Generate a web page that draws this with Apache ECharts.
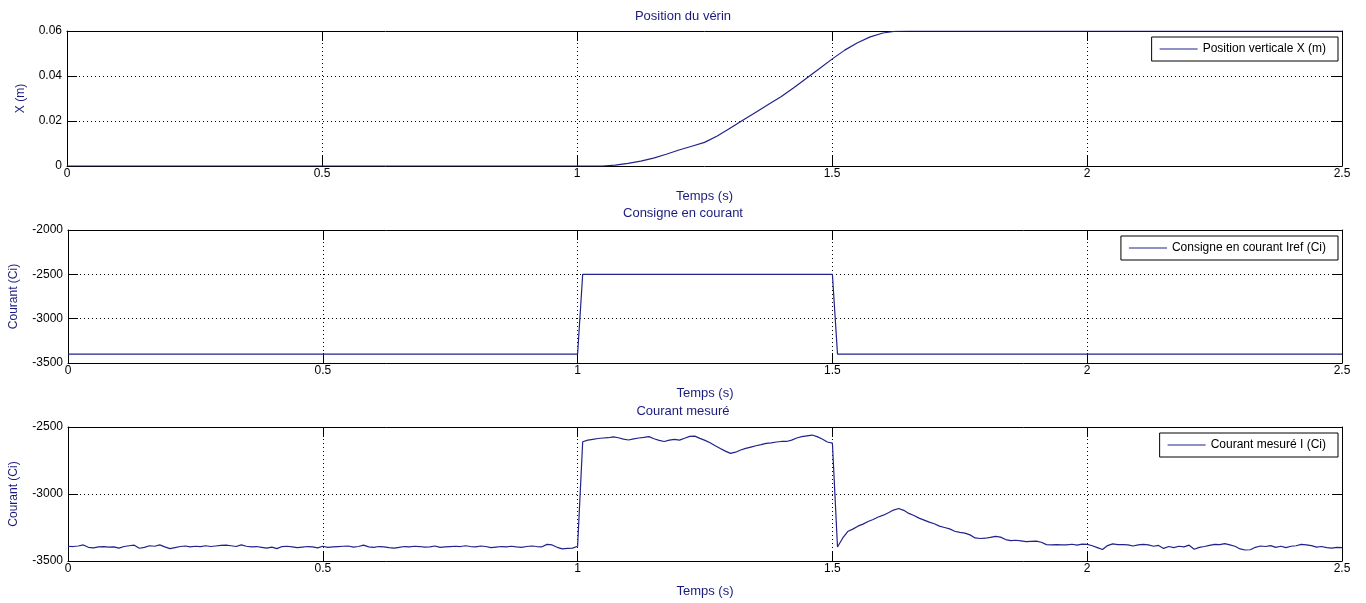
<!DOCTYPE html>
<html><head><meta charset="utf-8">
<script src="https://cdn.jsdelivr.net/npm/echarts@6/dist/echarts.min.js"></script>
<style>html,body{margin:0;padding:0;background:#fff;}#c{width:1366px;height:603px;}</style>
</head><body><div id="c"></div>
<script>
// ---- Data ----
const xTicks = [0, 0.5, 1, 1.5, 2, 2.5];
const titles = ['Position du vérin', 'Consigne en courant', 'Courant mesuré'];
const seriesNames = ['Position verticale X (m)', 'Consigne en courant Iref (Ci)', 'Courant mesuré I (Ci)'];

const posTime = [0, 1.05, 1.075, 1.10, 1.125, 1.15, 1.175, 1.20, 1.225, 1.25, 1.275, 1.30, 1.325, 1.35, 1.375, 1.40, 1.425, 1.45, 1.475, 1.50, 1.525, 1.55, 1.575, 1.60, 1.625, 1.65, 2.5];
const posValue = [0, 0, 0.0004, 0.0012, 0.0022, 0.0035, 0.0052, 0.0071, 0.0088, 0.0105, 0.0133, 0.0168, 0.0203, 0.0238, 0.0273, 0.0308, 0.0348, 0.0390, 0.0432, 0.0475, 0.0515, 0.0548, 0.0574, 0.0591, 0.0599, 0.0600, 0.0600];

const refTime = [0, 1.0, 1.01, 1.5, 1.51, 2.5];
const refValue = [-3400, -3400, -2500, -2500, -3400, -3400];

const measStep = 0.01;
const measValue = [
-3390,-3392,-3388,-3380,-3398,-3402,-3395,-3393,-3396,-3394,
-3404,-3392,-3386,-3382,-3405,-3398,-3386,-3390,-3380,-3395,
-3408,-3400,-3392,-3388,-3395,-3390,-3393,-3386,-3392,-3388,
-3384,-3382,-3386,-3392,-3380,-3390,-3395,-3392,-3398,-3404,
-3396,-3408,-3392,-3390,-3394,-3400,-3396,-3392,-3394,-3402,
-3390,-3398,-3394,-3392,-3390,-3388,-3396,-3392,-3382,-3395,
-3398,-3392,-3395,-3400,-3404,-3398,-3392,-3394,-3390,-3392,
-3396,-3394,-3388,-3398,-3395,-3392,-3390,-3392,-3386,-3392,
-3394,-3388,-3392,-3400,-3396,-3392,-3394,-3390,-3395,-3398,
-3392,-3388,-3392,-3394,-3376,-3380,-3398,-3410,-3406,-3404,
-3390,-2610,-2598,-2592,-2586,-2582,-2580,-2574,-2580,-2590,
-2597,-2588,-2582,-2578,-2572,-2588,-2600,-2608,-2598,-2592,
-2598,-2584,-2570,-2568,-2585,-2600,-2618,-2640,-2660,-2680,
-2697,-2688,-2672,-2660,-2650,-2640,-2632,-2622,-2618,-2612,
-2608,-2608,-2598,-2582,-2572,-2566,-2560,-2572,-2590,-2612,
-2620,-3395,-3330,-3280,-3262,-3240,-3225,-3205,-3190,-3172,
-3158,-3140,-3120,-3108,-3122,-3145,-3160,-3180,-3195,-3210,
-3222,-3240,-3250,-3260,-3278,-3286,-3292,-3305,-3328,-3332,
-3330,-3324,-3316,-3322,-3340,-3348,-3345,-3350,-3356,-3354,
-3352,-3360,-3378,-3380,-3378,-3380,-3380,-3375,-3382,-3374,
-3376,-3386,-3400,-3414,-3385,-3372,-3378,-3378,-3380,-3388,
-3380,-3376,-3380,-3390,-3384,-3406,-3392,-3400,-3390,-3395,
-3382,-3412,-3398,-3392,-3384,-3376,-3378,-3370,-3380,-3390,
-3410,-3418,-3416,-3398,-3388,-3392,-3385,-3398,-3390,-3400,
-3390,-3386,-3376,-3380,-3385,-3396,-3392,-3400,-3404,-3398,
-3400
];

const yMins = [0, -3500, -3500];
const yMaxs = [0.06, -2000, -2500];
const yIntervals = [0.02, 500, 500];
const yNames = ['X (m)', 'Courant (Ci)', 'Courant (Ci)'];

// ---- Build ----
const navy = '#1b1b7e';
const lineColor = '#22228c';
const font = '"Liberation Sans", Arial, sans-serif';
const grids = [
  {left: 67, right: 24, top: 31, height: 135},
  {left: 67, right: 24, top: 230, height: 133},
  {left: 67, right: 24, top: 427, height: 134}
];
const titleTops = [4.5, 201.5, 399.5];
const legendTops = [37, 236, 433];
const yNameGaps = [40, 48, 48];

const pair = (ts, vs) => vs.map((v, i) => [ts[i], v]);
const measTime = measValue.map((_, i) => +(i * measStep).toFixed(2));
const datasets = [pair(posTime, posValue), pair(refTime, refValue), pair(measTime, measValue)];

const xAxis = [], yAxis = [], series = [], title = [], legend = [];
for (let g = 0; g < 3; g++) {
  xAxis.push({
    type: 'value', gridIndex: g, min: 0, max: 2.5, interval: 0.5,
    name: 'Temps (s)', nameLocation: 'middle', nameGap: 23.5,
    nameTextStyle: {color: navy, fontSize: 13, fontFamily: font},
    axisLine: {show: true, onZero: false, lineStyle: {color: '#000', width: 1}},
    axisTick: {show: true, inside: true, length: 10, lineStyle: {color: '#000'}},
    axisLabel: {color: '#000', fontSize: 12, fontFamily: font, margin: 2,
      formatter: v => String(v)},
    splitLine: {show: true, lineStyle: {color: '#000', type: [1, 3], width: 1}}
  });
  xAxis.push({
    type: 'value', gridIndex: g, position: 'top', min: 0, max: 2.5, interval: 0.5,
    axisLine: {show: true, onZero: false, lineStyle: {color: '#000', width: 1}},
    axisTick: {show: true, inside: true, length: 10, lineStyle: {color: '#000'}},
    axisLabel: {show: false}, splitLine: {show: false}
  });
  yAxis.push({
    type: 'value', gridIndex: g, min: yMins[g], max: yMaxs[g], interval: yIntervals[g],
    name: yNames[g], nameLocation: 'middle', nameGap: yNameGaps[g], nameRotate: 90,
    nameTextStyle: {color: navy, fontSize: 12, fontFamily: font},
    axisLine: {show: true, onZero: false, lineStyle: {color: '#000', width: 1}},
    axisTick: {show: true, inside: true, length: 10, lineStyle: {color: '#000'}},
    axisLabel: {color: '#000', fontSize: 12, fontFamily: font, margin: 5,
      formatter: v => String(+v.toFixed(4))},
    splitLine: {show: true, lineStyle: {color: '#000', type: [1, 3], width: 1}}
  });
  yAxis.push({
    type: 'value', gridIndex: g, position: 'right', min: yMins[g], max: yMaxs[g], interval: yIntervals[g],
    axisLine: {show: true, onZero: false, lineStyle: {color: '#000', width: 1}},
    axisTick: {show: true, inside: true, length: 10, lineStyle: {color: '#000'}},
    axisLabel: {show: false}, splitLine: {show: false}
  });
  series.push({
    type: 'line', name: seriesNames[g], xAxisIndex: g * 2, yAxisIndex: g * 2,
    data: datasets[g], symbol: 'none', animation: false,
    lineStyle: {color: lineColor, width: 1.2}, itemStyle: {color: lineColor}
  });
  title.push({
    text: titles[g], left: 'center', top: titleTops[g],
    textStyle: {color: navy, fontSize: 13, fontWeight: 'normal', fontFamily: font}
  });
  legend.push({
    data: [{name: seriesNames[g], icon: 'rect'}], right: 28, top: legendTops[g],
    orient: 'horizontal', backgroundColor: '#fff', borderColor: '#000', borderWidth: 1,
    borderRadius: 0, padding: [6, 12, 6, 8], itemWidth: 38, itemHeight: 1, itemGap: 4,
    itemStyle: {color: lineColor},
    textStyle: {color: '#000', fontSize: 12, fontFamily: font},
    selectedMode: false
  });
}

const chart = echarts.init(document.getElementById('c'));
chart.setOption({
  animation: false, backgroundColor: '#fff',
  title, legend, grid: grids, xAxis, yAxis, series
});
</script></body></html>
